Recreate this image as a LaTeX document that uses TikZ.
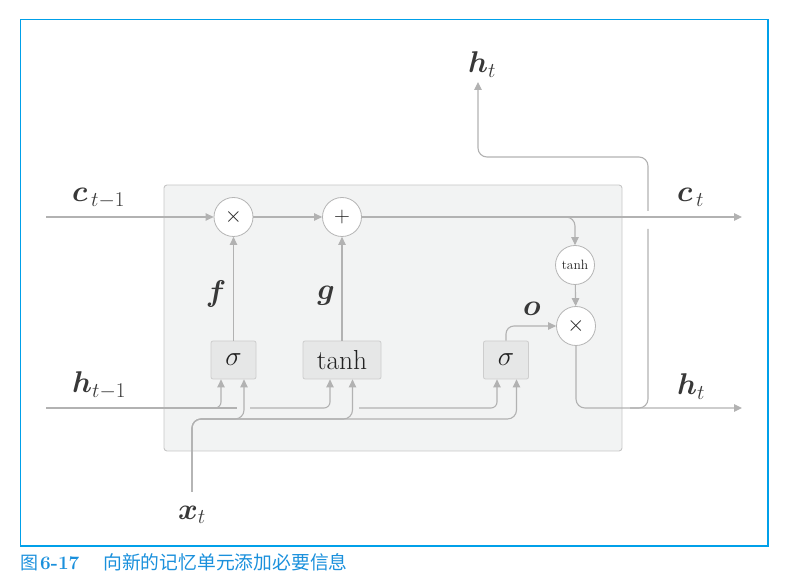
\RequirePackage{fix-cm}
\documentclass[tikz,border=0pt]{standalone}
\usepackage{amsmath,bm}
\usepackage{fontspec}
\newfontfamily\cjk{Noto Sans CJK SC}
\usetikzlibrary{arrows.meta}
\definecolor{lncol}{HTML}{B2B2B2}
\definecolor{circbd}{HTML}{B5B5B5}
\definecolor{gatefill}{HTML}{E6E7E7}
\definecolor{gatebd}{HTML}{CDCDCD}
\definecolor{boxfill}{HTML}{F2F3F3}
\definecolor{boxbd}{HTML}{C6C6C6}
\definecolor{txt}{HTML}{383838}
\definecolor{optxt}{HTML}{222222}
\definecolor{frameblue}{HTML}{00A0E9}
\definecolor{capblue}{HTML}{1A90DC}
\begin{document}
\begin{tikzpicture}[x=1pt,y=-1pt,
  ln/.style={draw=lncol, line width=1.1pt},
  arr/.style={ln, -{Triangle[length=8pt,width=7.5pt]}},
  op/.style={circle, draw=circbd, fill=white, minimum size=39pt, inner sep=0pt, line width=0.8pt, text=optxt},
  gate/.style={draw=gatebd, fill=gatefill, rounded corners=2pt, minimum height=38pt, inner sep=0pt, line width=0.8pt, text=optxt, font=\fontsize{27.5}{30}\selectfont},
  lab/.style={text=txt, font=\fontsize{30}{36}\selectfont, inner sep=0pt},
  captext/.style={text=capblue, inner sep=0pt, anchor=base west}]
\useasboundingbox (0,0) rectangle (788,585);
% frame
\draw[frameblue, line width=1.2pt] (20.5,19.5) rectangle (768,546);
% cell box
\draw[draw=boxbd, fill=boxfill, line width=0.9pt, rounded corners=3pt] (164,185) rectangle (622,451);
% operation nodes
\node[op] (m1) at (233.5,217) {\fontsize{22}{22}\selectfont$\times$};
\node[op] (add) at (342,217) {\fontsize{22}{22}\selectfont$+$};
\node[op] (tc) at (575,265) {\fontsize{13.5}{14}\selectfont tanh};
\node[op] (m2) at (576,326) {\fontsize{22}{22}\selectfont$\times$};
\node[gate, minimum width=45pt] (s1) at (233.5,360) {$\sigma$};
\node[gate, minimum width=78pt] (tb) at (342,360) {tanh};
\node[gate, minimum width=45pt] (s2) at (506,360) {$\sigma$};
% free ends
\coordinate (cin) at (46,217);
\coordinate (cout) at (742,217);
\coordinate (hin) at (46,408);
\coordinate (hout) at (742,408);
\coordinate (hb1) at (237,408);
\coordinate (hb2) at (250,408);
\coordinate (hb3) at (359,408);
\coordinate (xin) at (192,492);
\coordinate (xb) at (0,419);
\coordinate (hj) at (630,408);
\coordinate (v1) at (648,229);
\coordinate (v2) at (648,211);
\coordinate (hc) at (478,157);
\coordinate (htip) at (478,82);
\coordinate (s1a) at ([xshift=-12.5pt]s1.south);
\coordinate (s1b) at ([xshift=10.5pt]s1.south);
\coordinate (tba) at ([xshift=-12pt]tb.south);
\coordinate (tbb) at ([xshift=10.5pt]tb.south);
\coordinate (s2a) at ([xshift=-9pt]s2.south);
\coordinate (s2b) at ([xshift=10.5pt]s2.south);
% cell state line
\draw[arr] (cin) -- (m1);
\draw[arr] (m1) -- (add);
\draw[arr] (add) -- (cout);
\draw[arr, rounded corners=9pt] (add.east) -| (tc.north);
\draw[arr] (tc) -- (m2);
% gates to ops
\draw[arr] (s1) -- (m1);
\draw[arr] (tb) -- (add);
\draw[arr, rounded corners=8pt] (s2.north) |- (m2.west);
% output
\draw[arr, rounded corners=9pt] (m2.south) |- (hout);
\draw[ln, rounded corners=9pt] (hj) -| (v1);
\draw[arr, rounded corners=9pt] (v2) |- (hc) -- (htip);
% h_{t-1} bus
\draw[ln] (hin) -- (hb1);
\draw[arr, rounded corners=6pt] (hin) -| (s1a);
\draw[arr, rounded corners=6pt] (hb2) -| (tba);
\draw[arr, rounded corners=6pt] (hb3) -| (s2a);
% x_t bus
\draw[arr, rounded corners=9pt] (xin) |- (s1b |- xb) -- (s1b);
\draw[arr, rounded corners=9pt] (xin) |- (tbb |- xb) -- (tbb);
\draw[arr, rounded corners=9pt] (xin) |- (s2b |- xb) -- (s2b);
% labels
\node[lab, anchor=base west] (lc0) at (72,202) {$\bm{c}_{\,t-1}$};
\node[lab, anchor=base west] (lh0) at (72,393) {$\bm{h}_{t-1}$};
\node[lab, anchor=base west] (lc1) at (677,202) {$\bm{c}_{\,t}$};
\node[lab, anchor=base west] (lh1) at (677,395) {$\bm{h}_{t}$};
\node[lab, anchor=base west] (lh2) at (468,73) {$\bm{h}_{t}$};
\node[lab, anchor=base west] (lx) at (178,519) {$\bm{x}_{t}$};
\node[lab] (lf) at (216,294) {$\bm{f}$};
\node[lab] (lg) at (326,296) {$\bm{g}$};
\node[lab] (lo) at (532,309) {$\bm{o}$};
% caption
\node[captext] (c1) at (20,569) {\fontsize{18}{18}\selectfont\cjk 图};
\node[captext] (c2) at (40,569) {\fontsize{19}{19}\selectfont\bfseries 6-17};
\node[captext] (c3) at (103,569) {\fontsize{18.8}{18.8}\selectfont\cjk 向新的记忆单元添加必要信息};
\end{tikzpicture}
\end{document}
